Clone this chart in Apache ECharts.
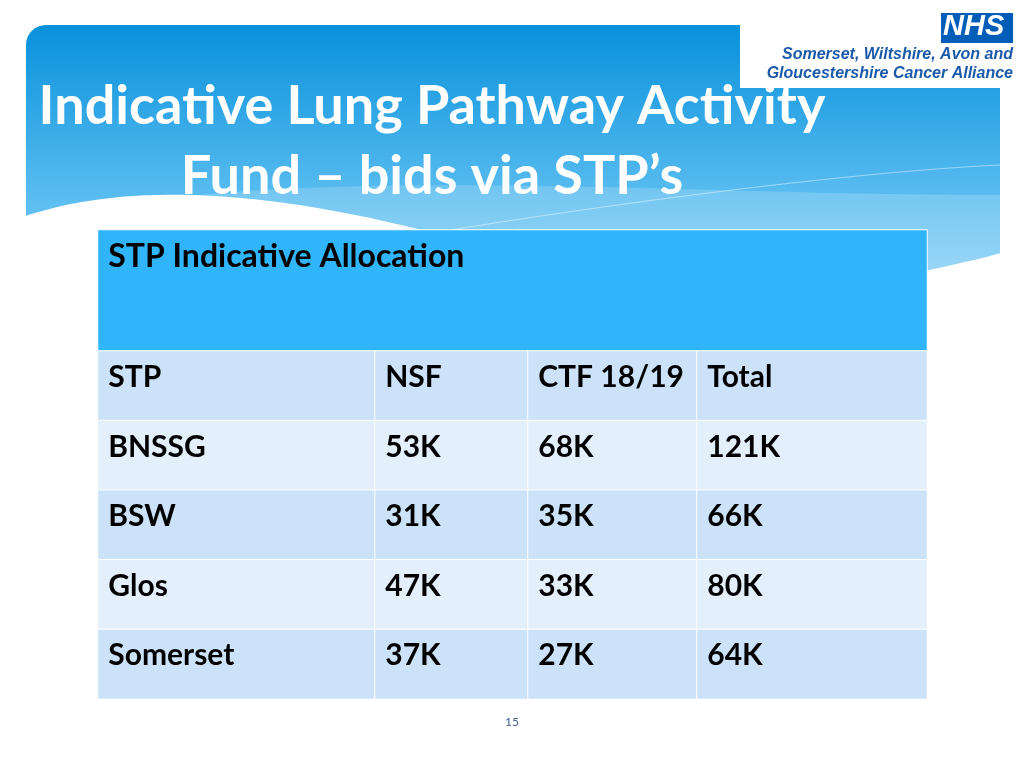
<!DOCTYPE html>
<html>
<head>
<meta charset="utf-8">
<script src="https://cdn.jsdelivr.net/npm/echarts@6/dist/echarts.min.js"></script>
<style>
  html, body { margin: 0; padding: 0; background: #fff; }
  #slide { width: 1024px; height: 768px; }
</style>
</head>
<body>
<div id="slide"></div>
<script>
// table content
var tableTitle = 'STP Indicative Allocation';
var columns = ['STP', 'NSF', 'CTF 18/19', 'Total'];
var stps = ['BNSSG', 'BSW', 'Glos', 'Somerset'];
var nsf = [53, 31, 47, 37];
var ctf = [68, 35, 33, 27];
var total = [121, 66, 80, 64];

var font = 'Lato';
var colEdges = [98, 375, 528, 697, 927];   // layout only
var darkRow = '#cbe2f8';
var lightRow = '#e3effb';

// points along a cubic curve, for the banner decoration
function curve(p0, p1, p2, p3) {
  var pts = [];
  for (var i = 0; i <= 40; i++) {
    var t = i / 40, u = 1 - t;
    pts.push([
      u * u * u * p0[0] + 3 * u * u * t * p1[0] + 3 * u * t * t * p2[0] + t * t * t * p3[0],
      u * u * u * p0[1] + 3 * u * u * t * p1[1] + 3 * u * t * t * p2[1] + t * t * t * p3[1]
    ]);
  }
  return pts;
}

var chartDom = document.getElementById('slide');
var myChart = echarts.init(chartDom);

var rowNames = ['head'].concat(stps);
var colValues = [stps, nsf, ctf, total];

var grids = [], xAxes = [], yAxes = [], series = [];

// merged title row
grids.push({ left: colEdges[0], top: 230, width: colEdges[4] - colEdges[0], height: 121 });
xAxes.push({ type: 'category', gridIndex: 0, data: [tableTitle], show: false });
yAxes.push({ type: 'category', gridIndex: 0, data: [tableTitle], show: false });
series.push({
  type: 'heatmap', xAxisIndex: 0, yAxisIndex: 0,
  itemStyle: { color: '#31b5fa', borderColor: '#ffffff', borderWidth: 1 },
  label: {
    show: true, position: [11, 11], color: '#000', fontFamily: font,
    fontWeight: 'bold', fontSize: 32, formatter: tableTitle
  },
  emphasis: { disabled: true },
  data: [[0, 0, 0]]
});

for (var c = 0; c < columns.length; c++) {
  var g = c + 1;
  grids.push({ left: colEdges[c], top: 351, width: colEdges[c + 1] - colEdges[c], height: 348 });
  xAxes.push({ type: 'category', gridIndex: g, data: [columns[c]], show: false });
  yAxes.push({ type: 'category', gridIndex: g, data: rowNames, inverse: true, show: false });
  var data = [];
  data.push({ value: [0, 0, 0], name: columns[c], itemStyle: { color: darkRow } });
  for (var r = 0; r < stps.length; r++) {
    var v = colValues[c][r];
    data.push({
      value: [0, r + 1, typeof v === 'number' ? v : r],
      name: typeof v === 'number' ? v + 'K' : v,
      itemStyle: { color: r % 2 === 0 ? lightRow : darkRow }
    });
  }
  series.push({
    type: 'heatmap', xAxisIndex: g, yAxisIndex: g,
    itemStyle: { borderColor: '#ffffff', borderWidth: 1 },
    label: {
      show: true, position: [11, 12], color: '#000', fontFamily: font,
      fontWeight: 'bold', fontSize: 30, formatter: '{b}'
    },
    emphasis: { disabled: true },
    data: data
  });
}

var band = curve([150, 200], [400, 170], [700, 195], [1000, 195]).concat([[1000, 270], [150, 270]]);
var thinLine = curve([420, 235], [600, 205], [850, 172], [1000, 165]);
var wave = curve([20, 218], [120, 182], [300, 175], [620, 292])
  .concat(curve([620, 292], [780, 300], [900, 280], [1005, 252]))
  .concat([[1010, 330], [20, 330]]);

var option = {
  backgroundColor: '#ffffff',
  animation: false,
  graphic: [
    // blue banner
    {
      type: 'rect', z: -10,
      shape: { x: 26, y: 25, width: 974, height: 270, r: [20, 0, 0, 0] },
      style: {
        fill: new echarts.graphic.LinearGradient(0, 0, 0, 1, [
          { offset: 0, color: '#0891dc' },
          { offset: 0.65, color: '#5bbdf0' },
          { offset: 1, color: '#8fd3f6' }
        ])
      }
    },
    { type: 'polygon', z: -9, shape: { points: band }, style: { fill: 'rgba(255,255,255,0.18)' } },
    { type: 'polyline', z: -9, shape: { points: thinLine }, style: { stroke: 'rgba(255,255,255,0.45)', lineWidth: 1 } },
    // white wave
    { type: 'polygon', z: -8, shape: { points: wave }, style: { fill: '#ffffff' } },
    // NHS box
    { type: 'rect', z: -7, shape: { x: 740, y: 0, width: 284, height: 88 }, style: { fill: '#ffffff' } },
    { type: 'rect', z: -6, shape: { x: 941, y: 13, width: 72, height: 30 }, style: { fill: '#005eb8' } },
    {
      type: 'text', z: -5, x: 943, y: 12,
      style: { text: 'NHS', fill: '#fff', font: 'italic bold 29px "Liberation Sans"' }
    },
    {
      type: 'text', z: -5, x: 1013, y: 47,
      style: { text: 'Somerset, Wiltshire, Avon and', fill: '#1b5aa8', font: 'italic bold 16px "Liberation Sans"', textAlign: 'right' }
    },
    {
      type: 'text', z: -5, x: 1013, y: 66,
      style: { text: 'Gloucestershire Cancer Alliance', fill: '#1b5aa8', font: 'italic bold 16px "Liberation Sans"', textAlign: 'right' }
    },
    // slide title
    {
      type: 'text', z: -4, x: 432, y: 80,
      style: { text: 'Indicative Lung Pathway Activity', fill: '#fff', font: 'bold 54px Lato', textAlign: 'center' }
    },
    {
      type: 'text', z: -4, x: 432, y: 150,
      style: { text: 'Fund \u2013 bids via STP\u2019s', fill: '#fff', font: 'bold 54px Lato', textAlign: 'center' }
    },
    // page number
    {
      type: 'text', x: 512, y: 716,
      style: { text: '15', fill: '#3b5d8f', font: '12px Lato', textAlign: 'center' }
    }
  ],
  grid: grids,
  xAxis: xAxes,
  yAxis: yAxes,
  series: series
};

option && myChart.setOption(option);
</script>
</body>
</html>
